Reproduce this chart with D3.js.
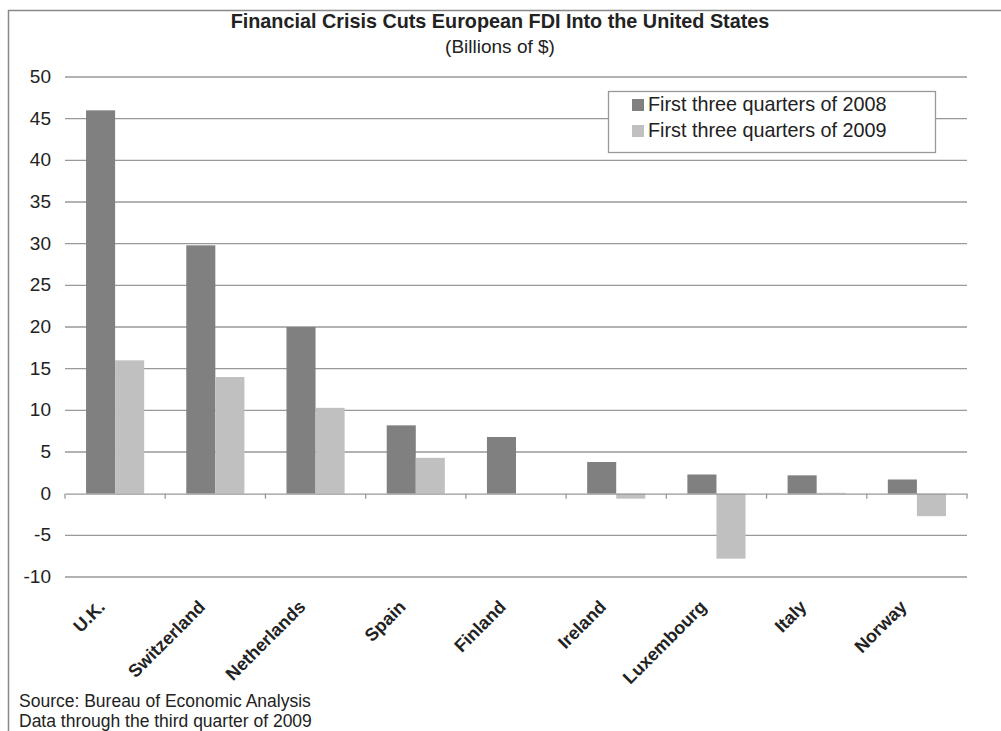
<!DOCTYPE html>
<html>
<head>
<meta charset="utf-8">
<script src="https://cdn.jsdelivr.net/npm/d3@7"></script>
<style>
  body { margin: 0; background: #fff; }
  text { font-family: "Liberation Sans", Arial, sans-serif; fill: #222; }
</style>
</head>
<body>
<script>
var width = 1001,
    height = 731;

var countries = ["U.K.", "Switzerland", "Netherlands", "Spain", "Finland", "Ireland", "Luxembourg", "Italy", "Norway"];
var fdi2008 = [46, 29.8, 20.0, 8.2, 6.8, 3.8, 2.3, 2.2, 1.7];
var fdi2009 = [16.0, 14.0, 10.3, 4.3, 0, -0.6, -7.8, 0.1, -2.7];
var seriesNames = ["First three quarters of 2008", "First three quarters of 2009"];
var seriesColors = ["#808080", "#c0c0c0"];
var yTicks = [-10, -5, 0, 5, 10, 15, 20, 25, 30, 35, 40, 45, 50];

var plotLeft = 65, plotRight = 967, plotTop = 77, plotBottom = 577;

var svg = d3.select("body").append("svg")
    .attr("width", width)
    .attr("height", height);

// outer frame (only top and left are visible)
svg.append("path")
  .attr("d", "M8.5," + height + "V10.5H" + width)
  .attr("fill", "none")
  .attr("stroke", "#888")
  .attr("stroke-width", 1.5);

var x = d3.scaleBand().domain(countries).range([plotLeft, plotRight]);
var y = d3.scaleLinear().domain([-10, 50]).range([plotBottom, plotTop]);

// gridlines
svg.append("g")
  .selectAll("line")
  .data(yTicks.filter(function(d) { return d != 0; }))
  .enter().append("line")
  .attr("x1", plotLeft).attr("x2", plotRight)
  .attr("y1", function(d) { return y(d); })
  .attr("y2", function(d) { return y(d); })
  .attr("stroke", "#999")
  .attr("stroke-width", 1.3);

// y labels
svg.append("g")
  .selectAll("text")
  .data(yTicks)
  .enter().append("text")
  .attr("x", 51)
  .attr("y", function(d) { return y(d) + 6; })
  .attr("text-anchor", "end")
  .attr("font-size", 19)
  .text(function(d) { return d; });

// bars
var rows = countries.map(function(c, i) { return { name: c, values: [fdi2008[i], fdi2009[i]] }; });
var bw = x.bandwidth();

var group = svg.append("g")
  .selectAll("g")
  .data(rows)
  .enter().append("g")
  .attr("transform", function(d) { return "translate(" + x(d.name) + ",0)"; });

group.selectAll("rect")
  .data(function(d) { return d.values; })
  .enter().append("rect")
  .attr("x", function(d, i) { return bw * 0.21 + i * bw * 0.29; })
  .attr("width", bw * 0.29)
  .attr("y", function(d) { return y(Math.max(0, d)); })
  .attr("height", function(d) { return Math.abs(y(d) - y(0)); })
  .attr("fill", function(d, i) { return seriesColors[i]; });

// zero axis with ticks
var axis = svg.append("g")
  .attr("transform", "translate(0," + y(0) + ")")
  .call(d3.axisBottom(x).tickSize(0).tickFormat(""));
axis.select(".domain").attr("stroke", "#999").attr("stroke-width", 1.3);
axis.selectAll(".boundary")
  .data(d3.range(countries.length + 1))
  .enter().append("line")
  .attr("class", "boundary")
  .attr("x1", function(d) { return plotLeft + d * bw; })
  .attr("x2", function(d) { return plotLeft + d * bw; })
  .attr("y1", 0).attr("y2", 5)
  .attr("stroke", "#999")
  .attr("stroke-width", 1.3);

// category labels
svg.append("g")
  .selectAll("text")
  .data(countries)
  .enter().append("text")
  .attr("transform", function(d) { return "translate(" + (x(d) + bw / 2 - 9) + ",608) rotate(-45)"; })
  .attr("text-anchor", "end")
  .attr("font-size", 18)
  .attr("font-weight", "bold")
  .text(function(d) { return d; });

// title
svg.append("text")
  .attr("x", 500).attr("y", 28)
  .attr("text-anchor", "middle")
  .attr("font-size", 19.8)
  .attr("font-weight", "bold")
  .text("Financial Crisis Cuts European FDI Into the United States");
svg.append("text")
  .attr("x", 500).attr("y", 53)
  .attr("text-anchor", "middle")
  .attr("font-size", 19)
  .text("(Billions of $)");

// legend
var legend = svg.append("g");
legend.append("rect")
  .attr("x", 608.5).attr("y", 91.5)
  .attr("width", 327).attr("height", 61)
  .attr("fill", "#fff")
  .attr("stroke", "#999")
  .attr("stroke-width", 1.3);
var item = legend.selectAll(".item")
  .data(seriesNames)
  .enter().append("g")
  .attr("class", "item")
  .attr("transform", function(d, i) { return "translate(632," + (99 + i * 26) + ")"; });
item.append("rect")
  .attr("width", 12).attr("height", 12)
  .attr("fill", function(d, i) { return seriesColors[i]; });
item.append("text")
  .attr("x", 16).attr("y", 12)
  .attr("font-size", 19.8)
  .text(function(d) { return d; });

// notes
svg.append("text").attr("x", 19).attr("y", 707).attr("font-size", 17.5)
  .text("Source: Bureau of Economic Analysis");
svg.append("text").attr("x", 19).attr("y", 727).attr("font-size", 17.5)
  .text("Data through the third quarter of 2009");
</script>
</body>
</html>
